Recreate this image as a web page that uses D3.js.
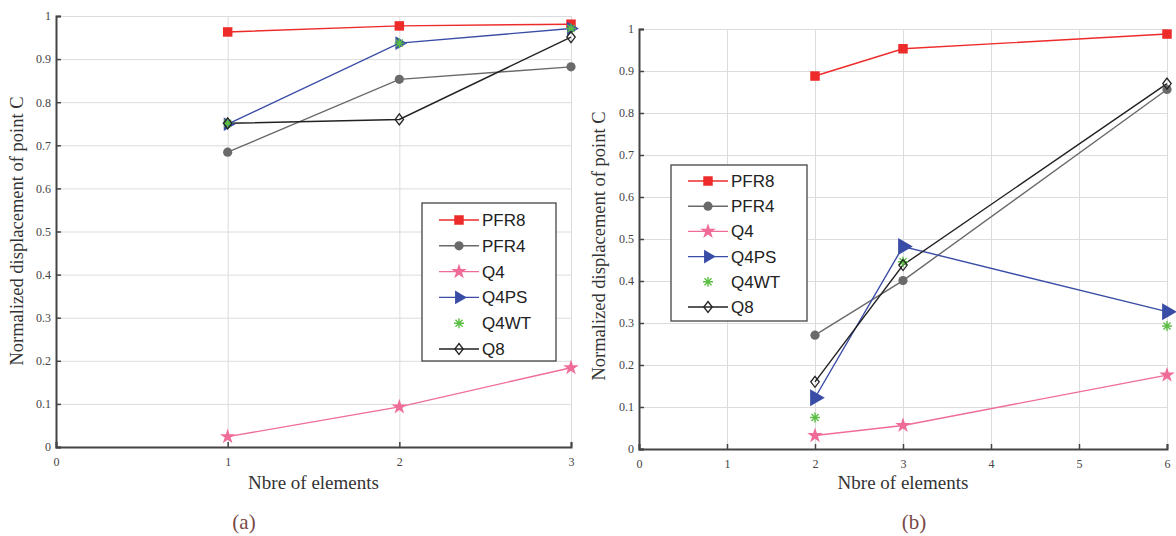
<!DOCTYPE html>
<html>
<head>
<meta charset="utf-8">
<script src="https://cdn.jsdelivr.net/npm/d3@7"></script>
<style>
  body { margin: 0; background: #fff; }
  svg { display: block; }
  .tick text { font-family: 'Liberation Serif', serif; font-size: 12px; fill: #444; }
  .grid line { stroke: #dcdcdc; stroke-width: 1; }
  .grid path { display: none; }
</style>
</head>
<body>
<svg id="chart" width="1176" height="536"></svg>
<script>
// series names in legend order
const seriesNames = ['PFR8', 'PFR4', 'Q4', 'Q4PS', 'Q4WT', 'Q8'];

// panel (a)
const elemsA = [1, 2, 3];
const pfr8A = [0.963, 0.977, 0.981];
const pfr4A = [0.684, 0.853, 0.882];
const q4A = [0.024, 0.093, 0.184];
const q4psA = [0.749, 0.937, 0.971];
const q4wtA = [0.751, 0.937, 0.971];
const q8A = [0.751, 0.760, 0.951];

// panel (b)
const elemsB = [2, 3, 6];
const pfr8B = [0.888, 0.953, 0.988];
const pfr4B = [0.271, 0.401, 0.856];
const q4B = [0.032, 0.056, 0.176];
const q4psB = [0.122, 0.482, 0.327];
const q4wtB = [0.075, 0.446, 0.293];
const q8B = [0.160, 0.438, 0.870];

const yTicks = [0, 0.1, 0.2, 0.3, 0.4, 0.5, 0.6, 0.7, 0.8, 0.9, 1];
const xTicksA = [0, 1, 2, 3];
const xTicksB = [0, 1, 2, 3, 4, 5, 6];

const styles = {
  PFR8: { color: '#ee2b2b', marker: 'square', line: true },
  PFR4: { color: '#6a6a6a', marker: 'circle', line: true },
  Q4: { color: '#f06c98', marker: 'star', line: true },
  Q4PS: { color: '#3a4da6', marker: 'triangle', line: true },
  Q4WT: { color: '#5cbf45', marker: 'asterisk', line: false },
  Q8: { color: '#222222', marker: 'diamond', line: true },
};

const svg = d3.select('#chart');

function asteriskPath(r) {
  let p = '';
  for (let i = 0; i < 4; i++) {
    const a = (i * Math.PI) / 4;
    const dx = r * Math.cos(a);
    const dy = r * Math.sin(a);
    p += `M${-dx},${-dy}L${dx},${dy}`;
  }
  return p;
}

function drawMarker(g, name, x, y, big) {
  const st = styles[name];
  const k = big ? 1.25 : 1;
  if (st.marker === 'square') {
    g.append('path').attr('d', d3.symbol(d3.symbolSquare, 90)())
      .attr('transform', `translate(${x},${y})`).attr('fill', st.color);
  } else if (st.marker === 'circle') {
    g.append('circle').attr('cx', x).attr('cy', y).attr('r', 4.6).attr('fill', st.color);
  } else if (st.marker === 'star') {
    g.append('path').attr('d', d3.symbol(d3.symbolStar, 75)())
      .attr('transform', `translate(${x},${y})`).attr('fill', st.color);
  } else if (st.marker === 'triangle') {
    g.append('path').attr('d', d3.symbol(d3.symbolTriangle, 80 * k * k)())
      .attr('transform', `translate(${x},${y}) rotate(90)`).attr('fill', st.color);
  } else if (st.marker === 'asterisk') {
    g.append('path').attr('d', asteriskPath(5))
      .attr('transform', `translate(${x},${y})`)
      .attr('stroke', st.color).attr('stroke-width', 1.4).attr('fill', 'none');
  } else if (st.marker === 'diamond') {
    g.append('path').attr('d', 'M0,-5.5L4.2,0L0,5.5L-4.2,0Z')
      .attr('transform', `translate(${x},${y})`)
      .attr('stroke', st.color).attr('stroke-width', 1.3).attr('fill', 'none');
  }
}

function drawPanel(cfg) {
  const x = d3.scaleLinear().domain(cfg.xDomain).range(cfg.xRange);
  const y = d3.scaleLinear().domain([0, 1]).range(cfg.yRange);
  const g = svg.append('g');

  // grid
  g.append('g').attr('class', 'grid')
    .attr('transform', `translate(0,${cfg.yRange[0]})`)
    .call(d3.axisBottom(x).tickValues(cfg.xTicks.slice(1))
      .tickSize(-(cfg.yRange[0] - cfg.yRange[1])).tickFormat(''));
  g.append('g').attr('class', 'grid')
    .attr('transform', `translate(${cfg.xRange[0]},0)`)
    .call(d3.axisLeft(y).tickValues(yTicks.slice(1))
      .tickSize(-(cfg.xRange[1] - cfg.xRange[0])).tickFormat(''));

  // axes
  const xAxis = g.append('g')
    .attr('transform', `translate(0,${cfg.yRange[0]})`)
    .call(d3.axisBottom(x).tickValues(cfg.xTicks).tickSize(-5).tickPadding(10)
      .tickFormat(d3.format('d')));
  const yAxis = g.append('g')
    .attr('transform', `translate(${cfg.xRange[0]},0)`)
    .call(d3.axisLeft(y).tickValues(yTicks).tickSize(-5).tickPadding(5)
      .tickFormat((d) => String(+d.toFixed(1))));
  [xAxis, yAxis].forEach((ax) => {
    ax.select('.domain').attr('stroke', '#444').attr('stroke-width', 2);
    ax.selectAll('.tick line').attr('stroke', '#444').attr('stroke-width', 1.5);
  });

  // lines
  const line = d3.line().x((d) => x(d[0])).y((d) => y(d[1]));
  cfg.series.forEach((vals, i) => {
    const name = seriesNames[i];
    if (!styles[name].line) return;
    const pts = cfg.elems.map((e, j) => [e, vals[j]]);
    g.append('path').datum(pts).attr('d', line)
      .attr('fill', 'none').attr('stroke', styles[name].color).attr('stroke-width', 1.4);
  });
  cfg.series.forEach((vals, i) => {
    const name = seriesNames[i];
    cfg.elems.forEach((e, j) => drawMarker(g, name, x(e), y(vals[j]), cfg.big));
  });

  // labels
  g.append('text')
    .attr('x', (cfg.xRange[0] + cfg.xRange[1]) / 2).attr('y', 489)
    .attr('text-anchor', 'middle')
    .style('font-family', 'Liberation Serif, serif').style('font-size', '19px').style('fill', '#333')
    .text('Nbre of elements');
  g.append('text')
    .attr('transform', `translate(${cfg.yLabelX},${cfg.yLabelY}) rotate(-90)`)
    .attr('text-anchor', 'middle')
    .style('font-family', 'Liberation Serif, serif').style('font-size', '18.5px').style('fill', '#333')
    .text('Normalized displacement of point C');
  g.append('text')
    .attr('x', cfg.capX).attr('y', 529).attr('text-anchor', 'middle')
    .style('font-family', 'Liberation Serif, serif').style('font-size', '21px').style('fill', '#7a4848')
    .text(cfg.caption);

  // legend
  const lg = g.append('g');
  lg.append('rect')
    .attr('x', cfg.legend.x).attr('y', cfg.legend.y)
    .attr('width', cfg.legend.w).attr('height', cfg.legend.h)
    .attr('fill', '#fff').attr('stroke', '#444').attr('stroke-width', 1.3);
  seriesNames.forEach((name, i) => {
    const ly = cfg.legend.y + cfg.legend.first + i * cfg.legend.step;
    const lx0 = cfg.legend.x + 17;
    const lx1 = lx0 + 40;
    if (styles[name].line) {
      lg.append('line').attr('x1', lx0).attr('x2', lx1).attr('y1', ly).attr('y2', ly)
        .attr('stroke', styles[name].color).attr('stroke-width', 1.4);
    }
    drawMarker(lg, name, (lx0 + lx1) / 2, ly, false);
    lg.append('text').attr('x', lx1 + 3).attr('y', ly + 6)
      .style('font-family', 'Liberation Sans, Arial, sans-serif').style('font-size', '17px').style('fill', '#222')
      .text(name);
  });
}

drawPanel({
  xDomain: [0, 3], xRange: [56, 571], yRange: [447, 16], xTicks: xTicksA,
  elems: elemsA, series: [pfr8A, pfr4A, q4A, q4psA, q4wtA, q8A], big: false,
  yLabelX: 23, yLabelY: 231, capX: 244, caption: '(a)',
  legend: { x: 422, y: 203, w: 134, h: 158, first: 17, step: 25.8 },
});

drawPanel({
  xDomain: [0, 6], xRange: [639, 1167], yRange: [449, 29], xTicks: xTicksB,
  elems: elemsB, series: [pfr8B, pfr4B, q4B, q4psB, q4wtB, q8B], big: true,
  yLabelX: 605, yLabelY: 246, capX: 914, caption: '(b)',
  legend: { x: 671, y: 165, w: 136, h: 156, first: 16, step: 25.2 },
});
</script>
</body>
</html>
